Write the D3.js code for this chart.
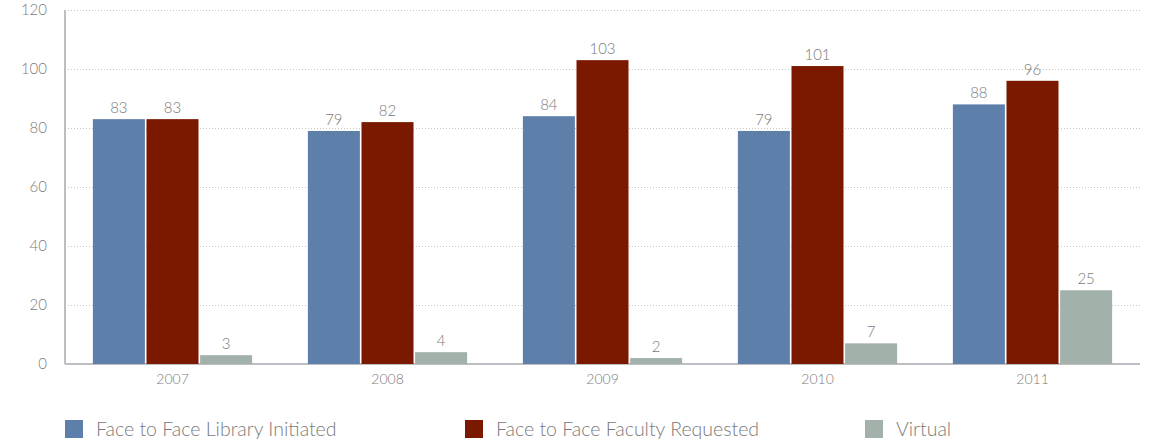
<!DOCTYPE html>
<html><head><meta charset="utf-8">
<script src="https://cdn.jsdelivr.net/npm/d3@7"></script>
<style>body{margin:0;background:#fff}svg{display:block;font-family:"Lato","Open Sans",sans-serif;font-weight:300}</style>
</head><body><svg id="c" width="1158" height="444"></svg>
<script>
const years = ["2007","2008","2009","2010","2011"];
const seriesNames = ["Face to Face Library Initiated","Face to Face Faculty Requested","Virtual"];
const libraryInitiated = [83,79,84,79,88];
const facultyRequested = [83,82,103,101,96];
const virtual = [3,4,2,7,25];
const yTicks = [0,20,40,60,80,100,120];
const colors = ["#5e7faa","#7b1800","#a3b1ab"];
const seriesValues = [libraryInitiated, facultyRequested, virtual];

(function(){
const svg = d3.select("#c");
const mLeft = 65, mRight = 1140, mTop = 10, mBottom = 364;
const y = d3.scaleLinear().domain([0,120]).range([mBottom, mTop]);
const x0 = d3.scaleBand().domain(years).range([mLeft, mRight]);
const x1 = d3.scaleBand().domain(d3.range(3)).range([0, x0.bandwidth()]).paddingInner(0.03).paddingOuter(0.52);
const txt = "#7a7a7a";

svg.append("g").selectAll("line").data(yTicks.filter(d=>d>0)).join("line")
  .attr("x1", mLeft).attr("x2", mRight).attr("y1", d=>y(d)+0.5).attr("y2", d=>y(d)+0.5)
  .attr("stroke","#c8c8c8").attr("stroke-dasharray","1,2").attr("stroke-width",1);

const ya = svg.append("g").attr("transform",`translate(${mLeft},0)`).call(d3.axisLeft(y).tickValues(yTicks).tickSize(0).tickPadding(18));
ya.select(".domain").attr("stroke","#bdbdc4").attr("stroke-width",2).attr("d",`M0,${mTop}V${mBottom}`);
ya.selectAll("text").attr("fill",txt).style("font-size","15px").style("font-family","Lato, sans-serif").style("font-weight","300");

const xa = svg.append("g").attr("transform",`translate(0,${mBottom})`).call(d3.axisBottom(x0).tickSize(0).tickPadding(10));
xa.select(".domain").attr("stroke","#bdbdc4").attr("stroke-width",2).attr("d",`M${mLeft},0H${mRight}`);
xa.selectAll("text").attr("fill",txt).style("font-size","14px").style("font-family","Lato, sans-serif").style("font-weight","300");

const groups = svg.append("g").selectAll("g").data(years).join("g").attr("transform",d=>`translate(${x0(d)},0)`);
groups.selectAll("rect").data((d,i)=>seriesValues.map((s,k)=>({k, v:s[i]}))).join("rect")
  .attr("x", d=>x1(d.k)).attr("width", x1.bandwidth())
  .attr("y", d=>y(d.v)).attr("height", d=>mBottom - y(d.v)).attr("fill", d=>colors[d.k]);
groups.selectAll("text").data((d,i)=>seriesValues.map((s,k)=>({k, v:s[i]}))).join("text")
  .attr("x", d=>x1(d.k)+x1.bandwidth()/2).attr("y", d=>y(d.v)-6)
  .attr("text-anchor","middle").attr("fill",txt).style("font-size","15px").text(d=>d.v);

const lg = svg.append("g").selectAll("g").data(seriesNames).join("g")
  .attr("transform",(d,i)=>`translate(${65 + i*400},420)`);
lg.append("rect").attr("width",18).attr("height",18).attr("fill",(d,i)=>colors[i]);
lg.append("text").attr("x",31).attr("y",16).attr("fill",txt).style("font-size","19.5px").text(d=>d);
})();
</script></body></html>
